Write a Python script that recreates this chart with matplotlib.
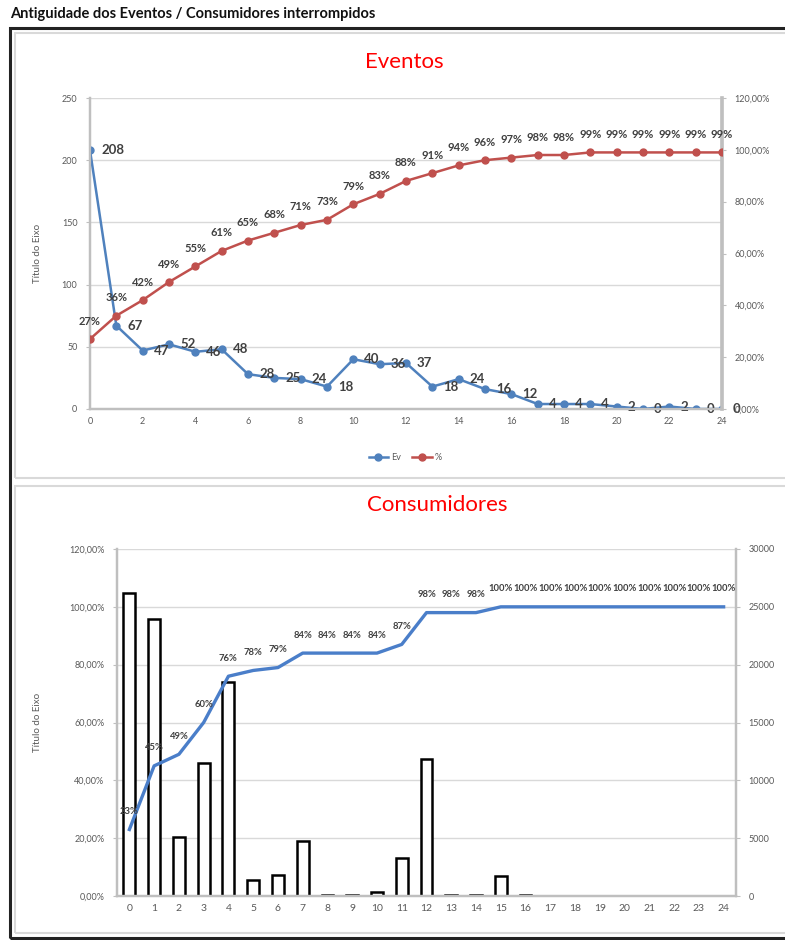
import matplotlib.pyplot as plt
from matplotlib.patches import Rectangle
from matplotlib.lines import Line2D
from matplotlib.ticker import FuncFormatter, MultipleLocator

plt.rcParams['font.family'] = ['Lato', 'DejaVu Sans']

# data
horas = list(range(25))
eventos = [208, 67, 47, 52, 46, 48, 28, 25, 24, 18, 40, 36, 37, 18, 24, 16, 12, 4, 4, 4, 2, 0, 2, 0, 0]
eventos_pct = [27, 36, 42, 49, 55, 61, 65, 68, 71, 73, 79, 83, 88, 91, 94, 96, 97, 98, 98, 99, 99, 99, 99, 99, 99]
consumidores = [26200, 23950, 5100, 11500, 18500, 1380, 1800, 4750, 100, 100, 350, 3300, 11850,
                80, 80, 1750, 60, 20, 20, 20, 20, 0, 20, 0, 0]
consumidores_pct = [23, 45, 49, 60, 76, 78, 79, 84, 84, 84, 84, 87, 98, 98, 98, 100, 100, 100, 100, 100,
                    100, 100, 100, 100, 100]

W, H = 785, 940
BLUE = '#4f81bd'
RED = '#c0504d'
GRID = '#d9d9d9'
SPINE = '#bfbfbf'
TICK = '#595959'
LBL = '#404040'


def px(x0, y0, x1, y1):
    # pixel box -> figure fraction rect
    return [x0 / W, 1 - y1 / H, (x1 - x0) / W, (y1 - y0) / H]


def pct_fmt(v, pos):
    return ('%.2f%%' % v).replace('.', ',')


def style(ax):
    ax.spines['top'].set_visible(False)
    for s in ['left', 'bottom', 'right']:
        ax.spines[s].set_color(SPINE)
        ax.spines[s].set_linewidth(1.6)
    ax.tick_params(colors=TICK, labelsize=6.5, length=0, pad=6)
    ax.tick_params(axis='y', which='both', length=3, color=SPINE)


fig = plt.figure(figsize=(W / 100, H / 100), dpi=100)

# page title and frames
fig.text(10 / W, 1 - 14 / H, 'Antiguidade dos Eventos / Consumidores interrompidos',
         fontsize=10.5, fontweight='bold', va='center', ha='left', color='#111111')
fig.patches.append(Rectangle((10 / W, 1 - 938 / H), 1.0, (938 - 28) / H, transform=fig.transFigure,
                             fill=False, edgecolor='#222222', linewidth=2.2))
fig.patches.append(Rectangle((15 / W, 1 - 478 / H), 1.0, (478 - 33) / H, transform=fig.transFigure,
                             fill=False, edgecolor=GRID, linewidth=1.5))
fig.patches.append(Rectangle((15 / W, 1 - 933 / H), 1.0, (933 - 486) / H, transform=fig.transFigure,
                             fill=False, edgecolor=GRID, linewidth=1.5))

# ---------------- Eventos ----------------
ax1 = fig.add_axes(px(90, 98, 722, 409))
ax1b = ax1.twinx()
style(ax1)
style(ax1b)
ax1b.spines['right'].set_linewidth(2.6)

ax1.plot(horas, eventos, color=BLUE, marker='o', markersize=5, linewidth=1.8, zorder=3)
ax1b.plot(horas, eventos_pct, color=RED, marker='o', markersize=5, linewidth=1.8, zorder=3)

ax1.set_xlim(0, 24)
ax1.set_ylim(0, 250)
ax1.yaxis.set_major_locator(MultipleLocator(50))
ax1.xaxis.set_major_locator(MultipleLocator(2))
ax1.grid(axis='y', color=GRID, linewidth=1)
ax1.set_axisbelow(True)
ax1b.set_ylim(0, 120)
ax1b.yaxis.set_major_locator(MultipleLocator(20))
ax1b.yaxis.set_major_formatter(FuncFormatter(pct_fmt))
ax1.set_ylabel('Título do Eixo', fontsize=7, color=TICK)
ax1.yaxis.set_label_coords((42 - 90) / 632, 0.5)

for x, v in zip(horas, eventos):
    ax1.annotate(str(v), (x, v), xytext=(11, 0), textcoords='offset pixels',
                 ha='left', va='center', fontsize=9.5, fontweight='bold', color=LBL, zorder=5)
for x, v in zip(horas, eventos_pct):
    ax1b.annotate('%d%%' % v, (x, v), xytext=(0, 18), textcoords='offset pixels',
                  ha='center', va='center', fontsize=8, fontweight='bold', color=LBL, zorder=5)

fig.text(404 / W, 1 - 62 / H, 'Eventos', color='#ff0000', fontsize=16, ha='center', va='center')

handles = [Line2D([], [], color=BLUE, marker='o', markersize=5, linewidth=1.8),
           Line2D([], [], color=RED, marker='o', markersize=5, linewidth=1.8)]
fig.legend(handles, ['Ev', '%'], loc='center', bbox_to_anchor=(405 / W, 1 - 458 / H), ncol=2,
           frameon=False, fontsize=6.5, labelcolor=TICK, handlelength=2.2, columnspacing=1.2,
           handletextpad=0.3)

# ---------------- Consumidores ----------------
ax2 = fig.add_axes(px(117, 549, 736, 896))
ax2b = ax2.twinx()
style(ax2)
style(ax2b)
ax2.tick_params(axis='x', labelsize=7.5)

ax2b.bar(horas, consumidores, width=0.48, facecolor='white', edgecolor='black', linewidth=1.8)
ax2.plot(horas, consumidores_pct, color='#4a7ec9', linewidth=2.4, zorder=3)

ax2.set_zorder(ax2b.get_zorder() + 1)
ax2.patch.set_visible(False)

ax2.set_xlim(-0.5, 24.5)
ax2.set_xticks(horas)
ax2.set_ylim(0, 120)
ax2.yaxis.set_major_locator(MultipleLocator(20))
ax2.yaxis.set_major_formatter(FuncFormatter(pct_fmt))
ax2b.set_ylim(0, 30000)
ax2b.yaxis.set_major_locator(MultipleLocator(5000))
ax2b.grid(axis='y', color=GRID, linewidth=1)
ax2b.set_axisbelow(True)
ax2.set_ylabel('Título do Eixo', fontsize=7, color=TICK)
ax2.yaxis.set_label_coords((42 - 117) / 619, 0.5)

for x, v in zip(horas, consumidores_pct):
    ax2.annotate('%d%%' % v, (x, v), xytext=(0, 18), textcoords='offset pixels',
                 ha='center', va='center', fontsize=6.8, fontweight='bold', color=LBL, zorder=5)

fig.text(437 / W, 1 - 505 / H, 'Consumidores', color='#ff0000', fontsize=16, ha='center', va='center')

fig.savefig('out.png', dpi=100)
